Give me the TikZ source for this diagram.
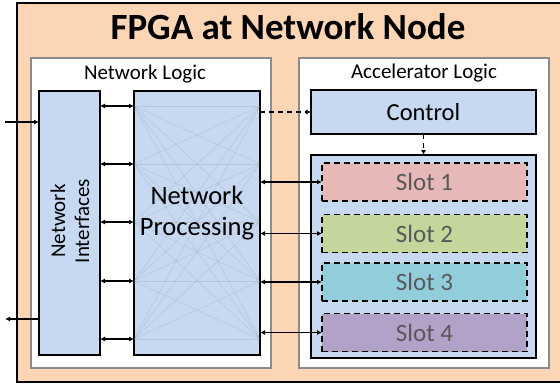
\documentclass[tikz,border=0pt]{standalone}
\usepackage{fontspec}
\setmainfont{Carlito}
\usetikzlibrary{arrows.meta}
\definecolor{orangebg}{HTML}{FCD5B5}
\definecolor{bluebox}{HTML}{C6D9F0}
\definecolor{slotA}{HTML}{E6B9B8}
\definecolor{slotB}{HTML}{C3D69B}
\definecolor{slotC}{HTML}{92CDDC}
\definecolor{slotD}{HTML}{B3A2C7}
\definecolor{wborder}{HTML}{8C8C8C}
\definecolor{slottext}{HTML}{595959}
\tikzset{
  boxbase/.style={rectangle, inner sep=0pt, outer sep=0pt},
  whitebox/.style={boxbase, fill=white, draw=wborder, line width=1.2pt},
  bluebx/.style={boxbase, fill=bluebox, draw=black, line width=1.6pt},
  slotbox/.style={boxbase, draw=black, line width=1.5pt, dash pattern=on 6pt off 4pt,
     minimum width=205pt, minimum height=38pt, text=slottext, font=\fontsize{25}{28}\selectfont},
  biarrow/.style={{Latex[length=5pt,width=5pt]}-{Latex[length=5pt,width=5pt]}, line width=1.6pt},
  onearrow/.style={-{Latex[length=5pt,width=5pt]}, line width=1.6pt},
  dasharrow/.style={-{Latex[length=5pt,width=5pt]}, line width=1.2pt, dash pattern=on 5pt off 4pt},
  mesh/.style={draw=gray, opacity=0.22, line width=0.5pt}
}
\begin{document}
\begin{tikzpicture}[x=1pt,y=-1pt]
\useasboundingbox (0,0) rectangle (560,384);
% outer orange area
\fill[orangebg] (17,3) rectangle (560,382);
\draw[line width=2.5pt] (560,3) -- (17,3) -- (17,382) -- (560,382);
\node[font=\fontsize{37}{40}\selectfont\bfseries] (title) at (288,27) {FPGA at Network Node};
% white logic boxes
\node[whitebox, minimum width=240pt, minimum height=310pt] (NL) at (151,213) {};
\node[whitebox, minimum width=250pt, minimum height=310pt] (AL) at (424,213) {};
\node[font=\fontsize{21}{24}\selectfont] (NLt) at (145,74) {Network Logic};
\node[font=\fontsize{21}{24}\selectfont] (ALt) at (424,73) {Accelerator Logic};
% network interfaces and processing
\node[bluebx, minimum width=61pt, minimum height=264pt] (NI) at (69.5,223) {};
\node[rotate=90, align=center, font=\fontsize{21}{24}\selectfont] (NIt) at (70,221) {Network\\Interfaces};
\node[bluebx, minimum width=126pt, minimum height=264pt] (NP) at (197,223) {};
\foreach \a in {106,164,222,281,339}{
  \foreach \b in {106,164,222,281,339}{
    \draw[mesh] (NP.west |- 0,\a) -- (NP.east |- 0,\b);
  }
}
\node[align=center, font=\fontsize{26.5}{31}\selectfont] (NPt) at (197,213) {Network\\Processing};
% accelerator side
\node[bluebx, minimum width=225pt, minimum height=44pt, font=\fontsize{24.5}{28}\selectfont] (Ctrl) at (423.5,112) {Control};
\node[bluebx, minimum width=225pt, minimum height=203pt] (Cont) at (423.5,256.5) {};
\node[slotbox, fill=slotA] (S1) at (424.5,182) {Slot 1};
\node[slotbox, fill=slotB] (S2) at (424.5,233.5) {Slot 2};
\node[slotbox, fill=slotC] (S3) at (424.5,282) {Slot 3};
\node[slotbox, fill=slotD] (S4) at (424.5,332.5) {Slot 4};
% NI <-> NP arrows
\foreach \y in {106,164,222,281,339}{
  \draw[biarrow] (NI.east |- 0,\y) -- (NP.west |- 0,\y);
}
% NP <-> slots
\foreach \s in {S1,S2,S3,S4}{
  \draw[biarrow] (NP.east |- \s.west) -- (\s.west);
}
% control arrows
\draw[dasharrow] (NP.east |- Ctrl.west) -- (Ctrl.west);
\draw[dasharrow] (Ctrl.south) -- (Cont.north);
% external in/out
\coordinate (inp) at (5,122);
\coordinate (outp) at (5,319);
\draw[onearrow] (inp) -- (NI.west |- inp);
\draw[onearrow] (NI.west |- outp) -- (outp);
\end{tikzpicture}
\end{document}
